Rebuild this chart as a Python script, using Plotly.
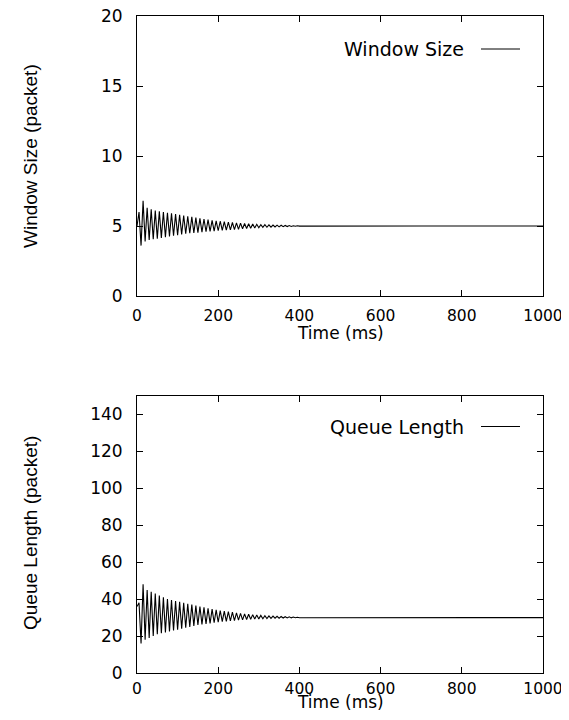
import plotly.graph_objects as go

# ---- data ----
# troughs at t = 0,10,...,400 ms ; peaks at t = 5,15,...,395 ms ; then the settled tail
trough_times = [0, 10, 20, 30, 40, 50, 60, 70, 80, 90, 100, 110, 120, 130, 140, 150, 160, 170, 180, 190, 200,
                210, 220, 230, 240, 250, 260, 270, 280, 290, 300, 310, 320, 330, 340, 350, 360, 370, 380, 390, 400]
peak_times = [5, 15, 25, 35, 45, 55, 65, 75, 85, 95, 105, 115, 125, 135, 145, 155, 165, 175, 185, 195,
              205, 215, 225, 235, 245, 255, 265, 275, 285, 295, 305, 315, 325, 335, 345, 355, 365, 375, 385, 395]
tail_times = [450, 500, 550, 600, 650, 700, 750, 800, 850, 900, 950, 1000]

window_peaks = [6.0, 6.8, 6.3, 6.2, 6.1, 6.05, 6.0, 5.95, 5.9, 5.85,
                5.8, 5.75, 5.7, 5.65, 5.6, 5.55, 5.5, 5.45, 5.4, 5.37,
                5.34, 5.31, 5.28, 5.25, 5.22, 5.2, 5.18, 5.16, 5.14, 5.12,
                5.1, 5.09, 5.08, 5.07, 5.06, 5.05, 5.04, 5.03, 5.02, 5.02]
window_troughs = [5.0, 3.6, 3.9, 4.0, 4.05, 4.1, 4.15, 4.2, 4.25, 4.3, 4.35,
                  4.4, 4.45, 4.48, 4.5, 4.53, 4.56, 4.59, 4.62, 4.64, 4.66,
                  4.68, 4.7, 4.72, 4.74, 4.76, 4.8, 4.82, 4.84, 4.86, 4.88,
                  4.9, 4.91, 4.92, 4.93, 4.94, 4.95, 4.96, 4.97, 4.98, 4.99]
window_tail = [5.0, 5.0, 5.0, 5.0, 5.0, 5.0, 5.0, 5.0, 5.0, 5.0, 5.0, 5.0]

queue_peaks = [38, 48, 45, 44, 43, 42, 41, 40, 39.5, 39,
               38.5, 38, 37.5, 37, 36.5, 36, 35.5, 35, 34.6, 34.2,
               33.8, 33.5, 33.2, 32.9, 32.6, 32.3, 32.0, 31.8, 31.6, 31.4,
               31.2, 31.0, 30.9, 30.8, 30.7, 30.6, 30.5, 30.4, 30.3, 30.2]
queue_troughs = [36, 16, 18, 19, 20, 21, 21.5, 22, 22.5, 23, 23.5,
                 24, 24.5, 25, 25.5, 26, 26.3, 26.6, 26.9, 27.2, 27.5,
                 27.8, 28, 28.2, 28.4, 28.6, 28.8, 29.0, 29.1, 29.2, 29.3,
                 29.4, 29.5, 29.6, 29.65, 29.7, 29.75, 29.8, 29.85, 29.9, 29.95]
queue_tail = [30, 30, 30, 30, 30, 30, 30, 30, 30, 30, 30, 30]

x_ticks = [0, 200, 400, 600, 800, 1000]
window_ticks = [0, 5, 10, 15, 20]
queue_ticks = [0, 20, 40, 60, 80, 100, 120, 140]


def interleave(tt, tv, pt, pv, xt, xv):
    xs, ys = [], []
    for i in range(len(tt)):
        xs.append(tt[i]); ys.append(tv[i])
        if i < len(pt):
            xs.append(pt[i]); ys.append(pv[i])
    return xs + xt, ys + xv


wx, wy = interleave(trough_times, window_troughs, peak_times, window_peaks, tail_times, window_tail)
qx, qy = interleave(trough_times, queue_troughs, peak_times, queue_peaks, tail_times, queue_tail)

FONT = "DejaVu Sans"
TITLE_FONT = "Liberation Sans Narrow, Liberation Sans"

# figure geometry (the page body adds an 8px margin: page px = figure px + 8)
OFF = 8
W, H = 553, 704
ML, MR, MT, MB = 129, 18, 8, 39
PW = W - ML - MR          # 406
PH = H - MT - MB          # 657


def py(page_y):           # page pixel y -> paper fraction
    return (H - MB - (page_y - OFF)) / PH


def px(page_x):           # page pixel x -> paper fraction
    return (page_x - OFF - ML) / PW


fig = go.Figure()
fig.add_trace(go.Scatter(x=wx, y=wy, mode="lines", name="Window Size",
                         line=dict(color="black", width=1.1), showlegend=False,
                         xaxis="x", yaxis="y"))
fig.add_trace(go.Scatter(x=qx, y=qy, mode="lines", name="Queue Length",
                         line=dict(color="black", width=1.1), showlegend=False,
                         xaxis="x2", yaxis="y2"))

axis_common = dict(showgrid=False, zeroline=False, showline=True, linecolor="black", linewidth=1,
                   mirror="allticks", ticks="inside", ticklen=6, tickcolor="black",
                   ticklabeloverflow="allow", automargin=False)
xfont = dict(family=FONT, size=15.5, color="black")
yfont = dict(family=FONT, size=17, color="black")

top_dom = [py(296), 1.0]
bot_dom = [0.0, py(396)]

fig.update_layout(
    xaxis=dict(range=[0, 1000], tickvals=x_ticks, domain=[0, 1], anchor="y", ticklabelstandoff=5,
               tickfont=xfont, **axis_common),
    yaxis=dict(range=[0, 20], tickvals=window_ticks, domain=top_dom, anchor="x", ticklabelstandoff=10,
               tickfont=yfont, **axis_common),
    xaxis2=dict(range=[0, 1000], tickvals=x_ticks, domain=[0, 1], anchor="y2", ticklabelstandoff=1,
                tickfont=xfont, **axis_common),
    yaxis2=dict(range=[0, 150], tickvals=queue_ticks, domain=bot_dom, anchor="x2", ticklabelstandoff=10,
                tickfont=yfont, **axis_common),
)

# axis titles as annotations placed like the reference
for text, yy in [("Time (ms)", 333), ("Time (ms)", 702)]:
    fig.add_annotation(xref="paper", yref="paper", x=0.5, y=py(yy), text=text, showarrow=False,
                       xanchor="center", yanchor="middle", font=dict(family=FONT, size=17, color="black"))
for text, yy in [("Window Size (packet)", 156), ("Queue Length (packet)", 533)]:
    fig.add_annotation(xref="paper", yref="paper", x=px(30), y=py(yy), text=text, showarrow=False,
                       textangle=-90, xanchor="center", yanchor="middle",
                       font=dict(family=TITLE_FONT, size=19, color="black"))

# gnuplot-style keys (text then line sample)
for text, yy in [("Window Size", 49), ("Queue Length", 426.5)]:
    fig.add_annotation(xref="paper", yref="paper", x=px(466), y=py(yy), text=text,
                       showarrow=False, xanchor="right", yanchor="middle",
                       font=dict(family=FONT, size=19, color="black"))
    fig.add_shape(type="line", xref="paper", yref="paper",
                  x0=px(481), x1=px(520), y0=py(yy), y1=py(yy),
                  line=dict(color="black", width=1))

fig.update_layout(width=W, height=H, margin=dict(l=ML, r=MR, t=MT, b=MB, autoexpand=False),
                  plot_bgcolor="white", paper_bgcolor="white",
                  font=dict(family=FONT, color="black"))

fig.write_html("out.html", config={"displayModeBar": False})
